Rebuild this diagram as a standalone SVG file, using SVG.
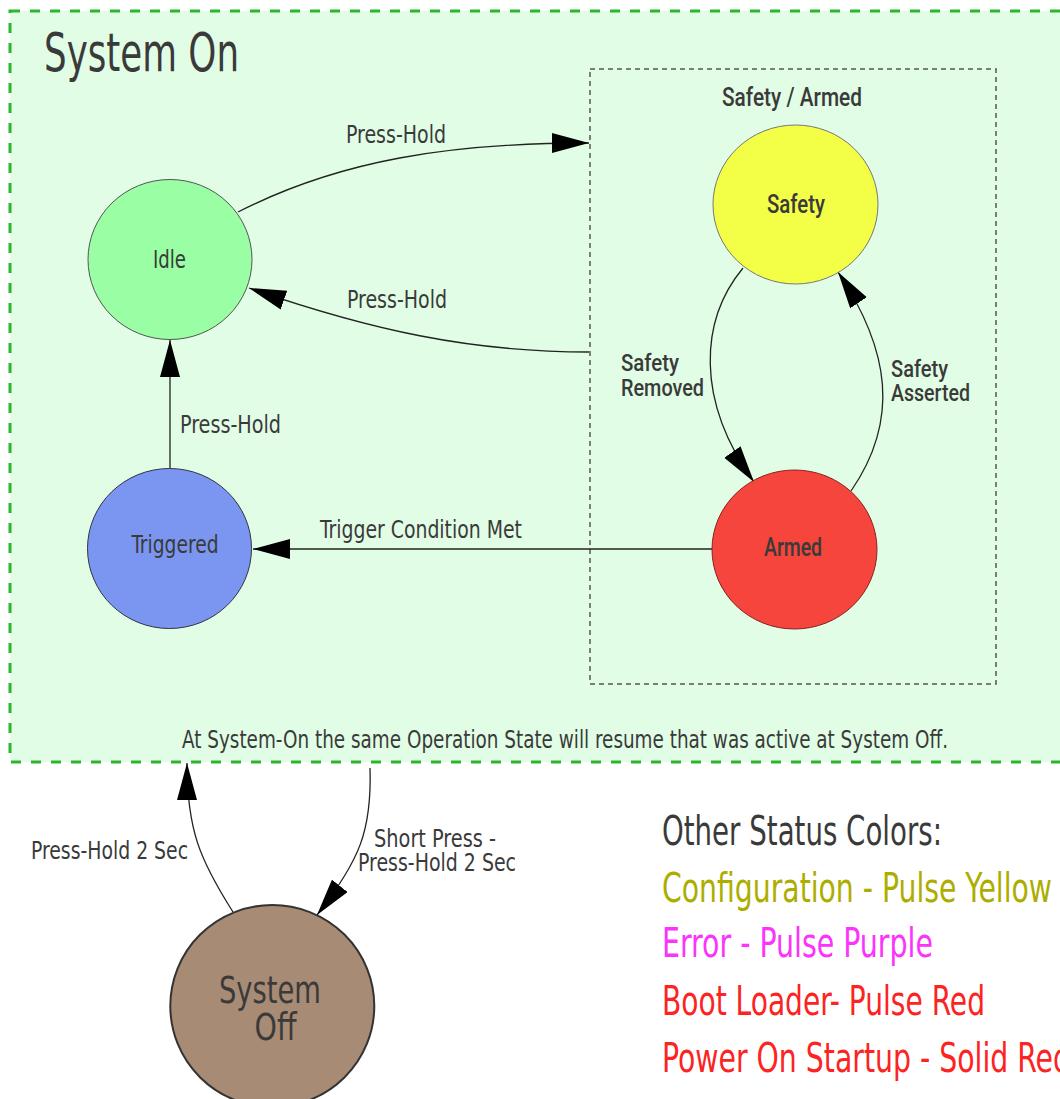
<svg xmlns="http://www.w3.org/2000/svg" width="1060" height="1099" viewBox="0 0 1060 1099">
<style>
.os{font-family:"DejaVu Sans Condensed","DejaVu Sans","Liberation Sans",sans-serif;fill:#3a3a3a}
.ar{font-family:Roboto,"Liberation Sans",sans-serif;font-weight:500;fill:#3a3a3a}
.lbl{font-size:24px}
.edge{fill:none;stroke:#222;stroke-width:1.3}
.node{stroke-width:1}
</style>
<defs>
<marker id="arr" markerUnits="userSpaceOnUse" markerWidth="40" markerHeight="24" refX="37" refY="10" orient="auto">
<path d="M0,0 L37,10 L0,20 z" fill="#000"/>
</marker>
</defs>
<rect width="1060" height="1099" fill="#ffffff"/>
<g id="system-on">
<rect x="10" y="11" width="1080" height="751" fill="#e1fde5" stroke="#2db52d" stroke-width="3" stroke-dasharray="10,10"/>
<text class="os" x="44" y="71" font-size="53" textLength="195" lengthAdjust="spacingAndGlyphs">System On</text>
<text class="os lbl" x="182" y="748" textLength="766" lengthAdjust="spacingAndGlyphs">At System-On the same Operation State will resume that was active at System Off.</text>
</g>
<g id="safety-armed">
<rect x="590" y="69" width="406" height="615" fill="none" stroke="#555" stroke-width="1.5" stroke-dasharray="5,4"/>
<text class="ar" x="722" y="106" font-size="25" textLength="140" lengthAdjust="spacingAndGlyphs">Safety / Armed</text>
</g>
<g id="connectors">
<path class="edge" d="M238,212 C340,160 450,143 589,143" marker-end="url(#arr)"/>
<text class="os lbl" x="346" y="143" textLength="100" lengthAdjust="spacingAndGlyphs">Press-Hold</text>
<path class="edge" d="M589,352 C470,352 370,330 249,288" marker-end="url(#arr)"/>
<text class="os lbl" x="347" y="308" textLength="100" lengthAdjust="spacingAndGlyphs">Press-Hold</text>
<path class="edge" d="M170,468 L170,340" marker-end="url(#arr)"/>
<text class="os lbl" x="180" y="433" textLength="101" lengthAdjust="spacingAndGlyphs">Press-Hold</text>
<path class="edge" d="M712,549 L253,549" marker-end="url(#arr)"/>
<text class="os lbl" x="320" y="538" textLength="202" lengthAdjust="spacingAndGlyphs">Trigger Condition Met</text>
<path class="edge" d="M743,268 C700,320 695,400 754,482" marker-end="url(#arr)"/>
<text class="ar" x="621" y="371" font-size="24" textLength="58" lengthAdjust="spacingAndGlyphs">Safety</text>
<text class="ar" x="621" y="396" font-size="24" textLength="83" lengthAdjust="spacingAndGlyphs">Removed</text>
<path class="edge" d="M851,491 C900,420 890,350 838,272" marker-end="url(#arr)"/>
<text class="ar" x="891" y="377" font-size="24" textLength="57" lengthAdjust="spacingAndGlyphs">Safety</text>
<text class="ar" x="891" y="401" font-size="24" textLength="79" lengthAdjust="spacingAndGlyphs">Asserted</text>
<path class="edge" d="M233,912 C200,860 187,830 187,763" marker-end="url(#arr)"/>
<text class="os lbl" x="31" y="859" textLength="157" lengthAdjust="spacingAndGlyphs">Press-Hold 2 Sec</text>
<path class="edge" d="M370,768 C372,830 360,860 317,915" marker-end="url(#arr)"/>
<text class="os lbl" x="374" y="847" textLength="122" lengthAdjust="spacingAndGlyphs">Short Press -</text>
<text class="os lbl" x="358" y="871" textLength="158" lengthAdjust="spacingAndGlyphs">Press-Hold 2 Sec</text>
</g>
<g id="idle">
<ellipse class="node" cx="170" cy="259.5" rx="82" ry="80" fill="#99fea4" stroke="#555"/>
<text class="os lbl" x="153" y="268" textLength="33" lengthAdjust="spacingAndGlyphs">Idle</text>
</g>
<g id="triggered">
<ellipse class="node" cx="169.5" cy="548.5" rx="82" ry="80" fill="#7b96f0" stroke="#334"/>
<text class="os lbl" x="131.5" y="553" textLength="87" lengthAdjust="spacingAndGlyphs">Triggered</text>
</g>
<g id="safety">
<ellipse class="node" cx="795.5" cy="204.5" rx="82.5" ry="79.5" fill="#f3fe46" stroke="#777"/>
<text class="ar" x="767" y="213" font-size="25" font-weight="700" textLength="58" lengthAdjust="spacingAndGlyphs">Safety</text>
</g>
<g id="armed">
<ellipse class="node" cx="794.5" cy="549.5" rx="82.5" ry="79.5" fill="#f5453c" stroke="#822"/>
<text class="ar" x="764" y="556" font-size="25" font-weight="700" textLength="58" lengthAdjust="spacingAndGlyphs">Armed</text>
</g>
<g id="system-off">
<ellipse cx="272.3" cy="1006" rx="102" ry="101" fill="#a78b74" stroke="#333" stroke-width="2"/>
<text class="os" x="219" y="1003" font-size="37" textLength="102" lengthAdjust="spacingAndGlyphs">System</text>
<text class="os" x="254.5" y="1040" font-size="37" textLength="42" lengthAdjust="spacingAndGlyphs">Off</text>
</g>
<g id="legend">
<text class="os" x="662" y="845" font-size="41" textLength="280" lengthAdjust="spacingAndGlyphs">Other Status Colors:</text>
<text class="os" x="662" y="902" font-size="41" style="fill:#adad00" textLength="390" lengthAdjust="spacingAndGlyphs">Configuration - Pulse Yellow</text>
<text class="os" x="662" y="957" font-size="41" style="fill:#fb33fb" textLength="271" lengthAdjust="spacingAndGlyphs">Error - Pulse Purple</text>
<text class="os" x="662" y="1015" font-size="41" style="fill:#fc2323" textLength="323" lengthAdjust="spacingAndGlyphs">Boot Loader- Pulse Red</text>
<text class="os" x="662" y="1072" font-size="41" style="fill:#fc2323" textLength="409" lengthAdjust="spacingAndGlyphs">Power On Startup - Solid Red</text>
</g>
</svg>
